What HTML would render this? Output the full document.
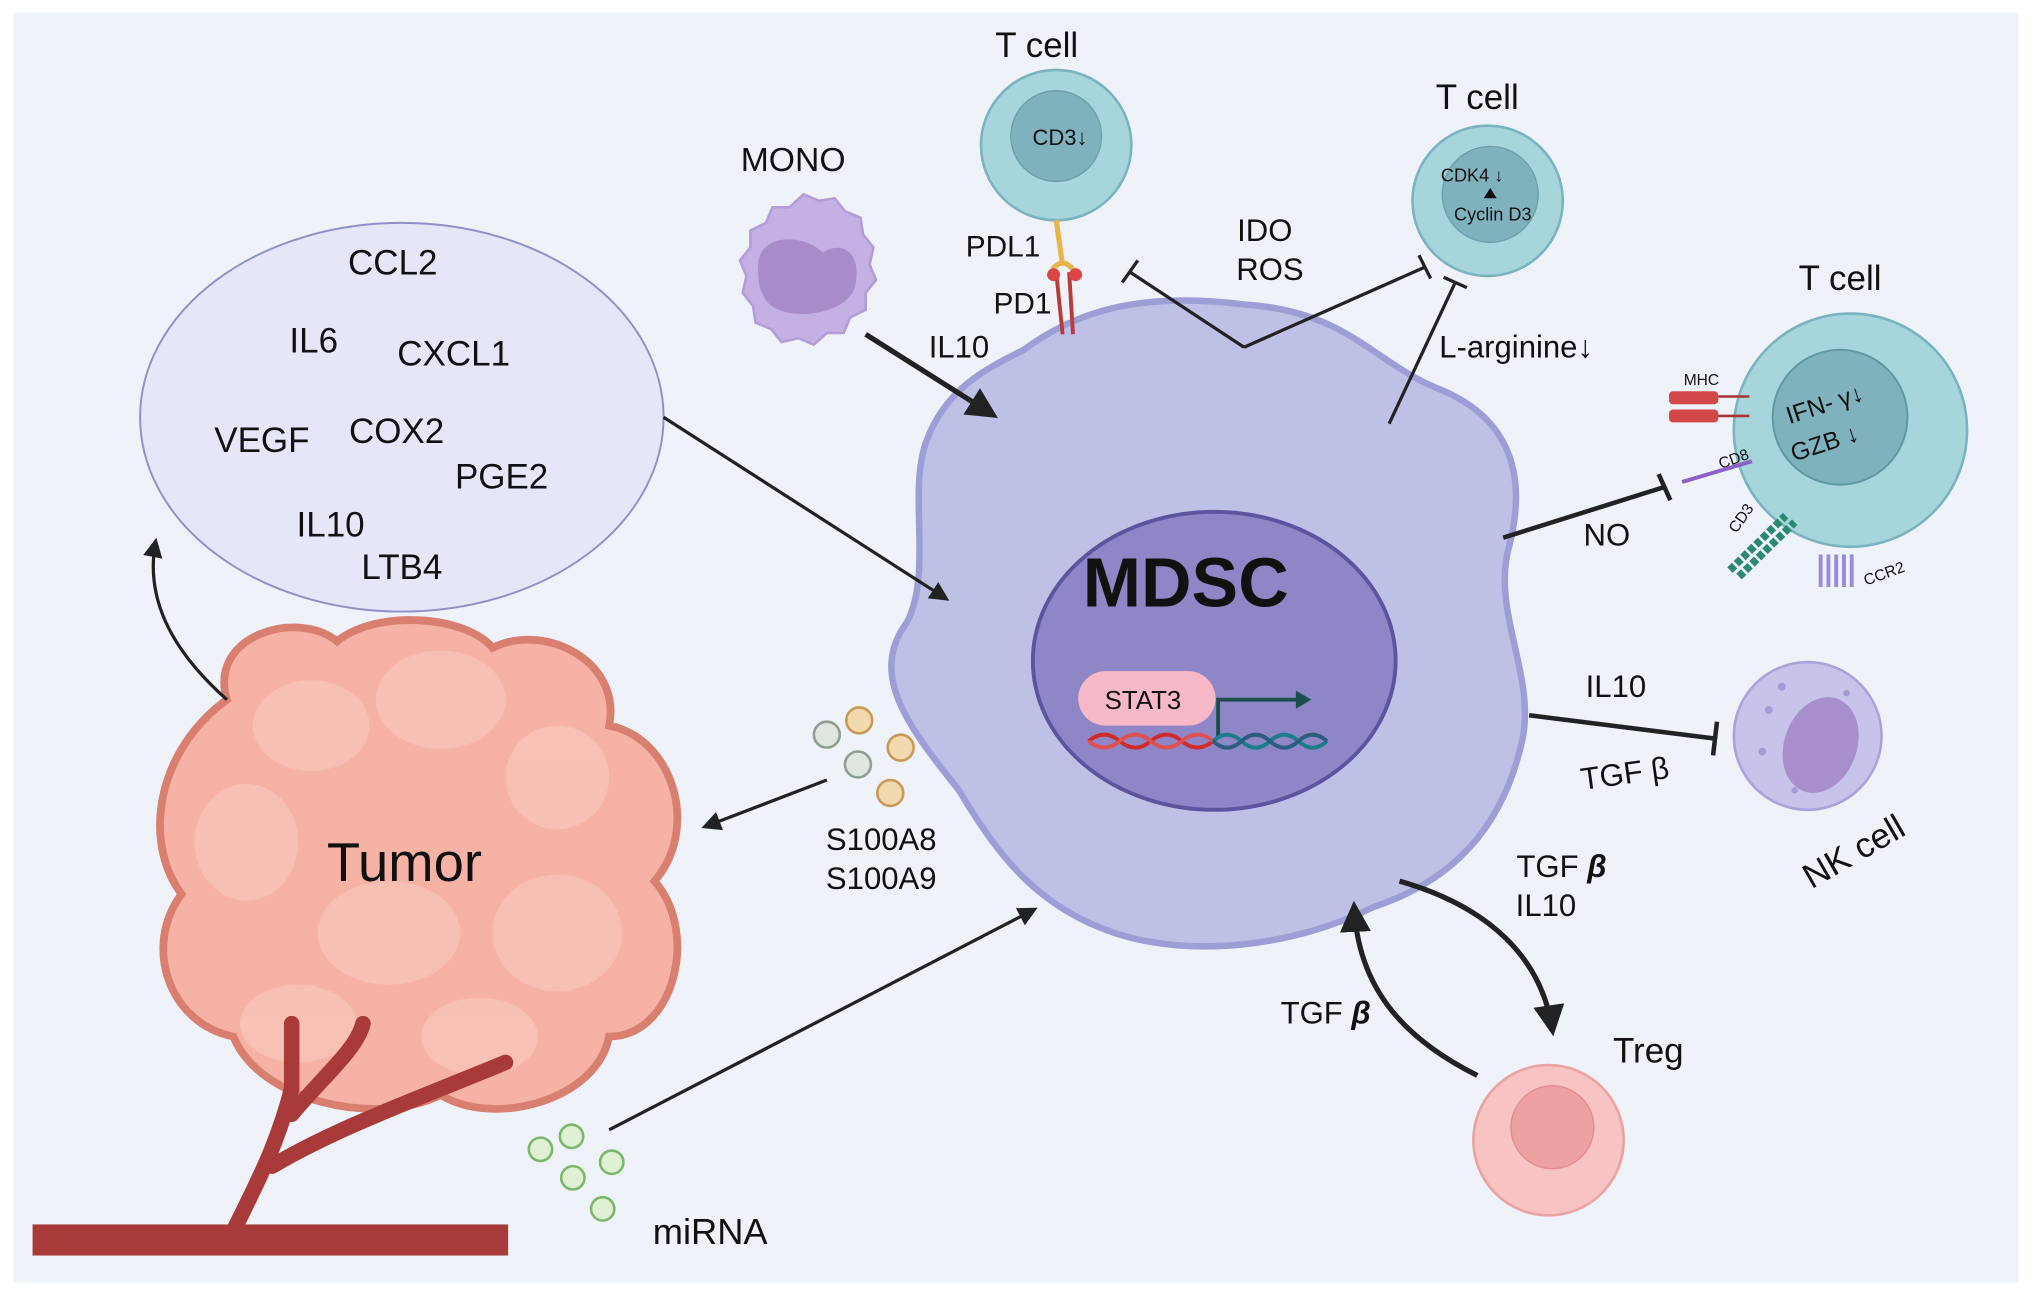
<!DOCTYPE html>
<html><head><meta charset="utf-8"><style>
html,body{margin:0;padding:0;background:#fff;}
svg{display:block;}
text{font-family:"Liberation Sans",sans-serif;fill:#111;}
</style></head><body>
<svg width="2032" height="1297" viewBox="0 0 1568 1001" xmlns="http://www.w3.org/2000/svg">
<defs>
<marker id="ah" viewBox="0 0 10 10" refX="8" refY="5" markerWidth="6" markerHeight="6" orient="auto"><path d="M0,0L10,5L0,10z" fill="#222"/></marker>
</defs>
<rect x="0" y="0" width="1568" height="1001" fill="#fff"/>
<rect x="10" y="10" width="1548" height="980" fill="#eff2f9"/>

<!-- cytokine ellipse -->
<ellipse cx="310" cy="322" rx="202" ry="150" fill="#e5e7f9" stroke="#8e90c8" stroke-width="1.5"/>
<g font-size="27" text-anchor="middle">
<text x="303" y="212">CCL2</text><text x="242" y="272">IL6</text><text x="350" y="282">CXCL1</text>
<text x="202" y="349">VEGF</text><text x="306" y="342">COX2</text><text x="387" y="377">PGE2</text>
<text x="255" y="414">IL10</text><text x="310" y="447">LTB4</text>
</g>

<!-- tumor -->
<path d="M175,540 C160,490 230,470 260,495 C290,470 360,475 380,500 C420,480 480,510 470,560 C520,570 540,640 505,680 C540,720 520,800 470,800 C460,850 380,870 340,845 C290,870 200,850 180,800 C130,790 110,730 140,690 C110,650 120,580 175,540Z" fill="#f7b2a6" stroke="#d97f70" stroke-width="6"/>
<g fill="#f9c3b9" opacity="0.8">
<ellipse cx="240" cy="560" rx="45" ry="35"/><ellipse cx="340" cy="540" rx="50" ry="38"/><ellipse cx="430" cy="600" rx="40" ry="40"/>
<ellipse cx="190" cy="650" rx="40" ry="45"/><ellipse cx="300" cy="720" rx="55" ry="40"/><ellipse cx="430" cy="720" rx="50" ry="45"/>
<ellipse cx="230" cy="790" rx="45" ry="30"/><ellipse cx="370" cy="800" rx="45" ry="30"/>
</g>
<text x="312" y="680" font-size="42" text-anchor="middle">Tumor</text>
<!-- vessel -->
<rect x="25" y="945" width="367" height="24" fill="#a83a3a"/>
<path d="M180,950 C200,910 215,880 225,840 L225,790 M225,860 C250,830 275,810 280,790 M210,900 C260,870 330,845 390,820" stroke="#a83a3a" stroke-width="12" fill="none" stroke-linecap="round"/>

<!-- MDSC -->
<path d="M790,270 C830,240 880,225 960,235 C1040,240 1060,280 1110,300 C1160,320 1180,360 1165,420 C1150,470 1185,520 1175,570 C1160,640 1120,680 1060,700 C1000,730 920,740 860,720 C800,700 770,660 740,610 C700,560 670,520 700,480 C720,440 700,380 715,340 C730,300 760,285 790,270Z" fill="#bfc0e5" stroke="#9d9ed5" stroke-width="5"/>
<ellipse cx="937" cy="510" rx="140" ry="115" fill="#8e86c6" stroke="#5d539f" stroke-width="3"/>
<text x="915" y="468" font-size="54" font-weight="bold" text-anchor="middle">MDSC</text>
<rect x="832" y="518" width="106" height="42" rx="21" fill="#f7b8c8"/>
<text x="882" y="547" font-size="20" text-anchor="middle">STAT3</text>
<path d="M940,568 L940,540 L1005,540" stroke="#1c4f4c" stroke-width="3" fill="none"/>
<path d="M1000,533 L1012,540 L1000,547z" fill="#1c4f4c"/>
<path d="M840,572 q12,-10 24,0 t24,0 t24,0 t24,0" stroke="#d02a2a" stroke-width="3" fill="none"/>
<path d="M840,572 q12,10 24,0 t24,0 t24,0 t24,0" stroke="#e05050" stroke-width="3" fill="none"/>
<path d="M936,572 q11,-10 22,0 t22,0 t22,0 t22,0" stroke="#1b7c8a" stroke-width="3" fill="none"/>
<path d="M936,572 q11,10 22,0 t22,0 t22,0 t22,0" stroke="#2a5d80" stroke-width="3" fill="none"/>

<!-- MONO -->
<path d="M620,150 l12,5 12,-2 8,10 12,5 2,13 8,10 -3,13 5,12 -8,10 0,13 -12,6 -5,12 -13,0 -10,9 -12,-5 -13,3 -8,-10 -12,-5 -2,-13 -8,-10 3,-13 -5,-12 8,-10 0,-13 12,-6 5,-12 13,0z" fill="#c4b0e2" stroke="#b49cd8" stroke-width="2"/>
<path d="M585,205 C585,180 620,180 635,195 C650,185 665,195 660,220 C655,245 600,250 590,230 C585,222 585,215 585,205Z" fill="#a98bc9"/>
<text x="612" y="132" font-size="26" text-anchor="middle">MONO</text>

<!-- T cell top -->
<circle cx="815" cy="112" r="58" fill="#a7d5dc" stroke="#7ab3bf" stroke-width="2"/>
<circle cx="815" cy="105" r="35" fill="#7fb2bd" stroke="#6a9ea9"/>
<text x="818" y="112" font-size="17" text-anchor="middle">CD3↓</text>
<text x="800" y="44" font-size="27" text-anchor="middle">T cell</text>
<path d="M815,170 L820,205" stroke="#e8b54a" stroke-width="4"/>
<path d="M812,208 q8,-10 16,0" stroke="#e8b54a" stroke-width="4" fill="none"/>
<path d="M815,210 L820,258 M825,210 L828,258" stroke="#b83a3a" stroke-width="3"/>
<circle cx="813" cy="212" r="5" fill="#d44"/><circle cx="830" cy="212" r="5" fill="#d44"/>
<text x="774" y="198" font-size="23" text-anchor="middle">PDL1</text>
<text x="789" y="242" font-size="23" text-anchor="middle">PD1</text>

<!-- T cell 2 -->
<circle cx="1148" cy="155" r="58" fill="#a7d5dc" stroke="#7ab3bf" stroke-width="2"/>
<circle cx="1150" cy="150" r="37" fill="#7fb2bd" stroke="#6a9ea9"/>
<text x="1136" y="140" font-size="14" text-anchor="middle">CDK4 ↓</text>
<text x="1152" y="170" font-size="14" text-anchor="middle">Cyclin D3</text>
<path d="M1150,145 l-5,8 h10z" fill="#111"/>
<text x="1140" y="84" font-size="27" text-anchor="middle">T cell</text>

<!-- T cell 3 -->
<circle cx="1428" cy="332" r="90" fill="#a7d5dc" stroke="#7ab3bf" stroke-width="2"/>
<circle cx="1420" cy="322" r="52" fill="#7fb2bd" stroke="#5f98a3" stroke-width="1.5"/>
<text x="1410" y="318" font-size="19" text-anchor="middle" transform="rotate(-18 1410 318)">IFN- γ↓</text>
<text x="1410" y="348" font-size="19" text-anchor="middle" transform="rotate(-18 1410 348)">GZB ↓</text>
<text x="1420" y="224" font-size="27" text-anchor="middle">T cell</text>
<text x="1313" y="297" font-size="12" text-anchor="middle">MHC</text>
<rect x="1288" y="302" width="38" height="10" rx="3" fill="#d24848"/><rect x="1288" y="316" width="38" height="10" rx="3" fill="#d24848"/>
<path d="M1326,306 H1350 M1326,321 H1350" stroke="#a33" stroke-width="2"/>
<text x="1328" y="362" font-size="12" transform="rotate(-20 1328 362)">CD8</text>
<path d="M1298,372 L1352,356" stroke="#8c60c8" stroke-width="3"/>
<text x="1340" y="412" font-size="12" transform="rotate(-55 1340 412)">CD3</text>
<path d="M1335,440 L1378,398 M1342,445 L1385,403" stroke="#2a8a70" stroke-width="6" stroke-dasharray="5 2"/>
<path d="M1405,428 v25 m6,-25 v25 m6,-25 v25 m6,-25 v25 m6,-25 v25" stroke="#9a8ad8" stroke-width="3"/>
<text x="1440" y="452" font-size="12" transform="rotate(-20 1440 452)">CCR2</text>

<!-- NK -->
<circle cx="1395" cy="568" r="57" fill="#c8c3ea" stroke="#a9a3dc" stroke-width="2"/>
<ellipse cx="1405" cy="575" rx="28" ry="38" fill="#a78fcc" transform="rotate(20 1405 575)"/>
<g fill="#a49ad6"><circle cx="1365" cy="548" r="3"/><circle cx="1375" cy="530" r="3"/><circle cx="1360" cy="580" r="3"/><circle cx="1385" cy="610" r="2.5"/><circle cx="1425" cy="535" r="2.5"/></g>
<text x="1435" y="665" font-size="27" text-anchor="middle" transform="rotate(-30 1435 665)">NK cell</text>

<!-- Treg -->
<circle cx="1195" cy="880" r="58" fill="#f7c3c3" stroke="#eaa3a3" stroke-width="2"/>
<circle cx="1198" cy="870" r="32" fill="#eea1a1" stroke="#e08c8c"/>
<text x="1272" y="820" font-size="27" text-anchor="middle">Treg</text>

<!-- arrows -->
<g stroke="#222" stroke-width="2.5" fill="none">
<path d="M512,322 L730,462" marker-end="url(#ah)"/>
<path d="M175,540 C130,500 112,460 120,418" marker-end="url(#ah)"/>
<path d="M668,258 L766,320" stroke-width="4" marker-end="url(#ah)"/>
<path d="M638,602 L544,638" marker-end="url(#ah)"/>
<path d="M470,872 L798,702" marker-end="url(#ah)"/>
<path d="M960,268 L872,210 M866,218 L878,201"/>
<path d="M960,268 L1100,206 M1095,197 L1104,215"/>
<path d="M1072,327 L1123,218 M1114,214 L1132,222"/>
<path d="M1160,415 L1284,376 M1280,366 L1289,386" stroke-width="3.5"/>
<path d="M1180,552 L1323,570 M1325,557 L1322,583" stroke-width="3.5"/>
<path d="M1080,680 C1150,700 1190,740 1198,795" stroke-width="4" marker-end="url(#ah)"/>
<path d="M1140,830 C1080,800 1048,760 1045,700" stroke-width="4" marker-end="url(#ah)"/>
</g>
<g font-size="24" text-anchor="middle">
<text x="740" y="276">IL10</text>
<text x="976" y="186">IDO</text><text x="980" y="216">ROS</text>
<text x="1170" y="276">L-arginine↓</text>
<text x="1240" y="421">NO</text>
<text x="1247" y="538">IL10</text>
<text x="1255" y="605" transform="rotate(-8 1255 605)">TGF β</text>
<text x="1205" y="677">TGF <tspan font-weight="bold" font-style="italic">β</tspan></text>
<text x="1193" y="707">IL10</text>
<text x="1023" y="790">TGF <tspan font-weight="bold" font-style="italic">β</tspan></text>
<text x="680" y="656">S100A8</text><text x="680" y="686">S100A9</text>
<text x="548" y="960" font-size="28">miRNA</text>
</g>
<!-- vesicles -->
<g stroke-width="2">
<circle cx="638" cy="567" r="10" fill="#dfe6e0" stroke="#8da08f"/><circle cx="663" cy="556" r="10" fill="#f3d9b0" stroke="#c99a55"/>
<circle cx="662" cy="590" r="10" fill="#dfe6e0" stroke="#8da08f"/><circle cx="695" cy="577" r="10" fill="#f3d9b0" stroke="#c99a55"/>
<circle cx="687" cy="612" r="10" fill="#f3d9b0" stroke="#c99a55"/>
<g fill="#dff0d5" stroke="#7cb86a"><circle cx="417" cy="887" r="9"/><circle cx="441" cy="877" r="9"/><circle cx="472" cy="897" r="9"/><circle cx="442" cy="909" r="9"/><circle cx="465" cy="933" r="9"/></g>
</g>
</svg>
</body></html>
